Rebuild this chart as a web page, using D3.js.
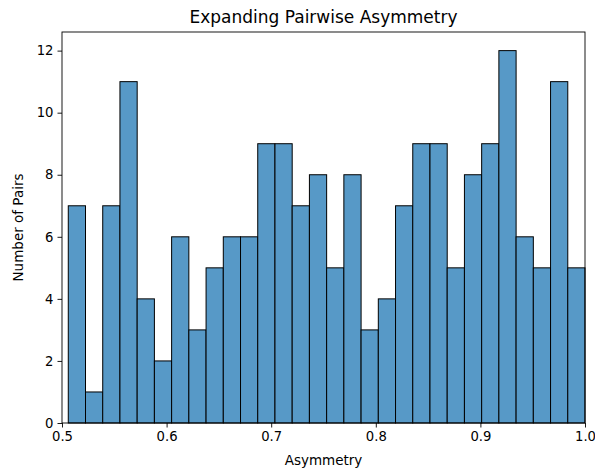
<!DOCTYPE html>
<html>
<head>
<meta charset="utf-8">
<script src="https://cdn.jsdelivr.net/npm/d3@7"></script>
<style>
  body { margin: 0; background: #fff; }
  text { font-family: "DejaVu Sans", sans-serif; fill: #000; }
</style>
</head>
<body>
<div id="chart"></div>
<script>
// histogram counts, one per bin (left to right)
const counts = [7, 1, 7, 11, 4, 2, 6, 3, 5, 6, 6, 9, 9, 7, 8, 5, 8, 3, 4, 7, 9, 9, 5, 8, 9, 12, 6, 5, 11, 5];
// data range covered by the bins
const binRange = [0.506, 1.0];
const xTicks = [0.5, 0.6, 0.7, 0.8, 0.9, 1.0];
const yTicks = [0, 2, 4, 6, 8, 10, 12];

const width = 595, height = 469;
const margin = { top: 32, right: 10, bottom: 46, left: 62 };

const svg = d3.select("#chart").append("svg")
    .attr("width", width)
    .attr("height", height);

const x = d3.scaleLinear()
    .domain([0.5, 1.0])
    .range([margin.left, width - margin.right]);

const y = d3.scaleLinear()
    .domain([0, 12.6])
    .range([height - margin.bottom, margin.top]);

const binW = (binRange[1] - binRange[0]) / counts.length;
const bins = counts.map((c, i) => ({ x0: binRange[0] + i * binW, x1: binRange[0] + (i + 1) * binW, n: c }));

// bars
svg.append("g")
    .selectAll("rect")
    .data(bins)
    .join("rect")
    .attr("x", d => x(d.x0))
    .attr("width", d => x(d.x1) - x(d.x0))
    .attr("y", d => y(d.n))
    .attr("height", d => y(0) - y(d.n))
    .attr("fill", "#5799c7")
    .attr("stroke", "#000")
    .attr("stroke-width", 1);

// axes
const xAxis = svg.append("g")
    .attr("transform", `translate(0,${height - margin.bottom})`)
    .call(d3.axisBottom(x).tickValues(xTicks).tickFormat(d3.format(".1f")).tickSize(4.5).tickPadding(4));

const yAxis = svg.append("g")
    .attr("transform", `translate(${margin.left},0)`)
    .call(d3.axisLeft(y).tickValues(yTicks).tickSize(4.5).tickPadding(4));

[xAxis, yAxis].forEach(a => {
    a.select(".domain").remove();
    a.selectAll("text").attr("font-size", 13.2).attr("font-family", "DejaVu Sans, sans-serif").attr("fill", "#000");
    a.selectAll("line").attr("stroke", "#000").attr("stroke-width", 0.9);
});

// frame
svg.append("rect")
    .attr("x", margin.left)
    .attr("y", margin.top)
    .attr("width", width - margin.left - margin.right)
    .attr("height", height - margin.top - margin.bottom)
    .attr("fill", "none")
    .attr("stroke", "#000")
    .attr("stroke-width", 0.9);

// title and labels
svg.append("text")
    .attr("x", (margin.left + width - margin.right) / 2)
    .attr("y", 23)
    .attr("text-anchor", "middle")
    .attr("font-size", 17)
    .text("Expanding Pairwise Asymmetry");

svg.append("text")
    .attr("x", (margin.left + width - margin.right) / 2)
    .attr("y", 465)
    .attr("text-anchor", "middle")
    .attr("font-size", 13.5)
    .text("Asymmetry");

svg.append("text")
    .attr("transform", `translate(23,${(margin.top + height - margin.bottom) / 2}) rotate(-90)`)
    .attr("text-anchor", "middle")
    .attr("font-size", 13.5)
    .text("Number of Pairs");
</script>
</body>
</html>
